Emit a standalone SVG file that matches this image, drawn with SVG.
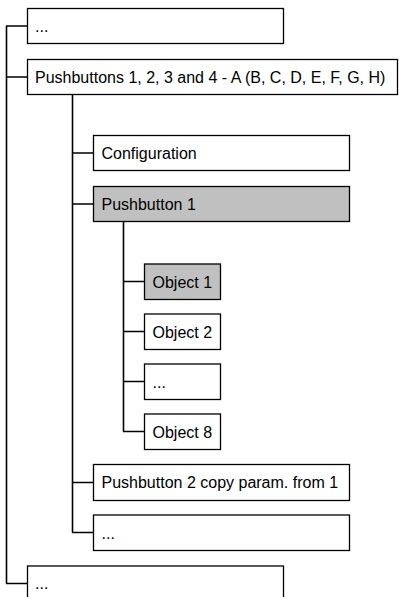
<svg xmlns="http://www.w3.org/2000/svg" width="399" height="597" viewBox="0 0 399 597">
<style>
.box{fill:#fff;stroke:#000;stroke-width:1.3}
.sel{fill:#c0c0c0;stroke:#000;stroke-width:1.3}
.t{font-family:"Liberation Sans",Arial,sans-serif;font-size:16px;fill:#000}
.ln{fill:none;stroke:#000;stroke-width:1.6}
</style>
<rect width="399" height="597" fill="#fff"/>
<g id="connectors">
<path class="ln" d="M6.5,26 V583.5 M6,26 H27.5 M6,77 H27.5 M6,583.5 H27.5"/>
<path class="ln" d="M72.5,94.5 V532.5 M72,153 H93.5 M72,204 H93.5 M72,482.5 H93.5 M72,532.5 H93.5"/>
<path class="ln" d="M123.5,221.5 V431.5 M123,281.5 H144.5 M123,331.5 H144.5 M123,381.5 H144.5 M123,431.5 H144.5"/>
</g>
<g id="n1"><rect class="box" x="27.5" y="8.5" width="256" height="35"/><text class="t" x="35" y="31.5">...</text></g>
<g id="n2"><rect class="box" x="27.5" y="59.5" width="370" height="35"/><text class="t" x="35" y="82.5">Pushbuttons 1, 2, 3 and 4 - A (B, C, D, E, F, G, H)</text></g>
<g id="n3"><rect class="box" x="93.5" y="135.5" width="256" height="35"/><text class="t" x="101.5" y="158.5">Configuration</text></g>
<g id="n4"><rect class="sel" x="93.5" y="186.5" width="256" height="35"/><text class="t" x="101.5" y="209.5">Pushbutton 1</text></g>
<g id="n5"><rect class="sel" x="144.5" y="264" width="76" height="35.5"/><text class="t" x="152.5" y="287.5">Object 1</text></g>
<g id="n6"><rect class="box" x="144.5" y="314" width="76" height="35.5"/><text class="t" x="152.5" y="337.5">Object 2</text></g>
<g id="n7"><rect class="box" x="144.5" y="364" width="76" height="35.5"/><text class="t" x="152.5" y="387.5">...</text></g>
<g id="n8"><rect class="box" x="144.5" y="414" width="76" height="35.5"/><text class="t" x="152.5" y="437.5">Object 8</text></g>
<g id="n9"><rect class="box" x="93.5" y="464.5" width="256" height="36"/><text class="t" x="101.5" y="488">Pushbutton 2 copy param. from 1</text></g>
<g id="n10"><rect class="box" x="93.5" y="515" width="256" height="35.5"/><text class="t" x="101.5" y="538.5">...</text></g>
<g id="n11"><rect class="box" x="27.5" y="566" width="256" height="40"/><text class="t" x="35" y="589">...</text></g>
</svg>
